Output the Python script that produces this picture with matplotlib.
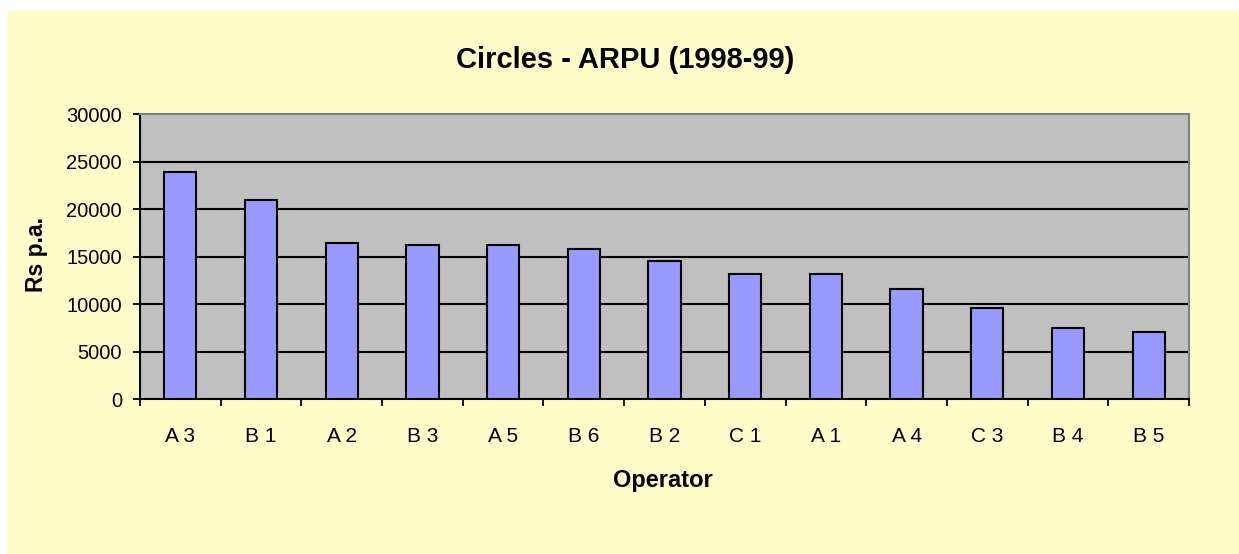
import matplotlib
matplotlib.use("Agg")
import matplotlib.pyplot as plt
from matplotlib.patches import Rectangle
import numpy as np

operators = ["A 3", "B 1", "A 2", "B 3", "A 5", "B 6", "B 2", "C 1", "A 1", "A 4", "C 3", "B 4", "B 5"]
arpu = [23900, 21000, 16400, 16250, 16250, 15800, 14500, 13150, 13150, 11550, 9550, 7450, 7050]
yticks = [0, 5000, 10000, 15000, 20000, 25000, 30000]

W, H = 1239, 554
fig = plt.figure(figsize=(W / 100, H / 100), dpi=100, facecolor="white")
plt.rcParams["font.family"] = ["Liberation Sans", "DejaVu Sans"]

# yellow chart area, behind the axes
fig.patches.append(Rectangle((7 / W, 0), 1 - 7 / W, (H - 10) / H,
                             transform=fig.transFigure, facecolor="#FFFFCC",
                             edgecolor="none", zorder=-10))

ax = fig.add_axes([140 / W, 1 - 399.3 / H, (1189 - 140) / W, (399.3 - 114) / H])
ax.set_facecolor("#C0C0C0")

x = np.arange(len(operators))
ax.bar(x, arpu, width=0.4, color="#9999FF", edgecolor="black", linewidth=1.5, zorder=3)

ax.set_xlim(-0.5, len(operators) - 0.5)
ax.set_ylim(0, 30000)

for v in yticks[1:-1]:
    ax.axhline(v, color="black", linewidth=1.5, zorder=1)

ax.set_yticks(yticks)
ax.set_yticklabels([str(v) for v in yticks], fontsize=14.5, color="#000000")
ax.tick_params(axis="y", direction="out", length=5, width=1.3, pad=8)

ax.set_xticks(x)
ax.set_xticklabels(operators, fontsize=15)
ax.tick_params(axis="x", which="major", length=0, pad=20)
ax.set_xticks(np.arange(-0.5, len(operators)), minor=True)
ax.tick_params(axis="x", which="minor", direction="out", length=5, width=1.3)

for s in ["left", "bottom"]:
    ax.spines[s].set_color("black")
    ax.spines[s].set_linewidth(1.5)
for s in ["top", "right"]:
    ax.spines[s].set_color("#808080")
    ax.spines[s].set_linewidth(1.5)

fig.text(625 / W, 1 - 60 / H, "Circles - ARPU (1998-99)", fontsize=21,
         fontweight="bold", ha="center", va="center")
fig.text(37 / W, 1 - 254 / H, "Rs p.a.", fontsize=16.5, fontweight="bold",
         rotation=90, ha="center", va="center")
fig.text(663 / W, 1 - 481 / H, "Operator", fontsize=17, fontweight="bold",
         ha="center", va="center")

fig.savefig("out.png", dpi=100, facecolor=fig.get_facecolor())
